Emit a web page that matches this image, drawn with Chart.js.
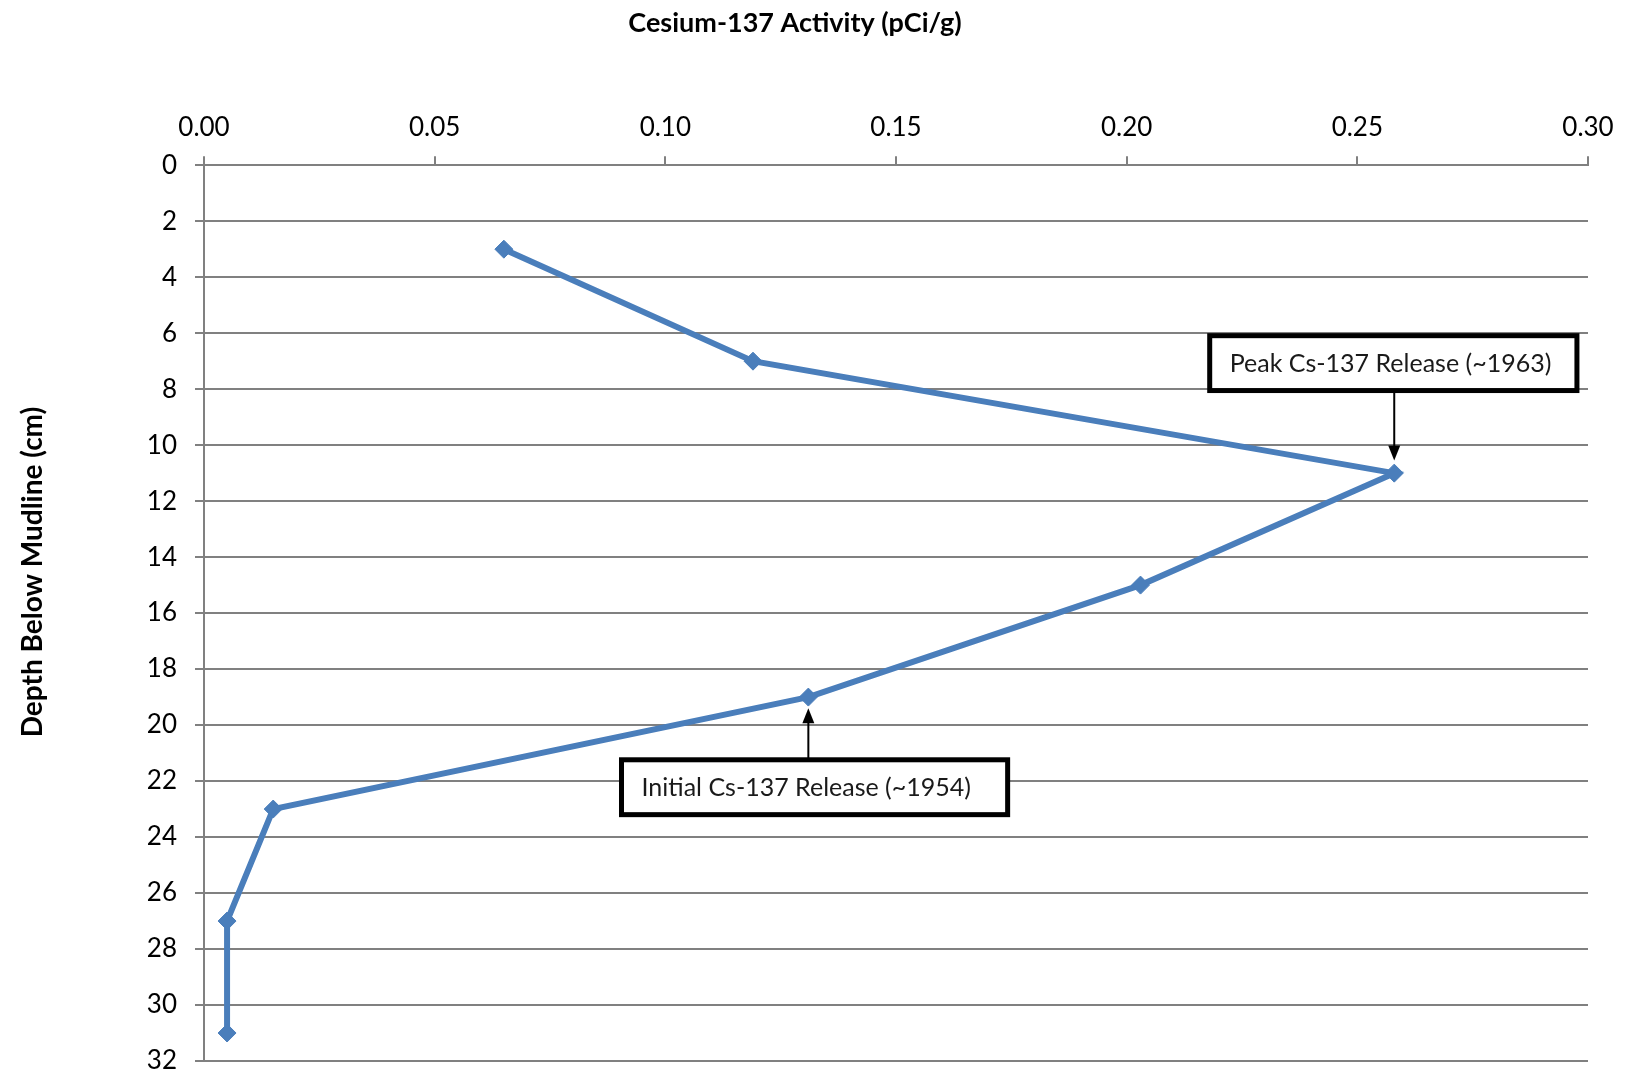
<!DOCTYPE html>
<html>
<head>
<meta charset="utf-8">
<script src="https://cdn.jsdelivr.net/npm/chart.js@4.4.1/dist/chart.umd.min.js"></script>
<style>
  html, body { margin: 0; padding: 0; background: #fff; }
  #wrap { width: 1631px; height: 1075px; }
</style>
</head>
<body>
<div id="wrap"><canvas id="cs137"></canvas></div>
<script>
// depth of each sample (cm) and its Cs-137 activity (pCi/g)
const depths = [3, 7, 11, 15, 19, 23, 27, 31];
const activity = [0.065, 0.119, 0.258, 0.203, 0.131, 0.015, 0.005, 0.005];

const xTicks = [0, 0.05, 0.10, 0.15, 0.20, 0.25, 0.30];
const yTicks = [0, 2, 4, 6, 8, 10, 12, 14, 16, 18, 20, 22, 24, 26, 28, 30, 32];

const xTitle = 'Cesium-137 Activity (pCi/g)';
const yTitle = 'Depth Below Mudline (cm)';

const FONT = 'Lato, "Open Sans", sans-serif';
const GRID = '#808080';

// callout boxes, placed in data units
const callouts = [
    { text: 'Peak Cs-137 Release (~1963)', x1: 0.218, x2: 0.2976, y1: 6.09, y2: 8.05,
      arrowX: 0.258, arrowFrom: 8.05, arrowTo: 10.55 },
    { text: 'Initial Cs-137 Release (~1954)', x1: 0.0905, x2: 0.1742, y1: 21.24, y2: 23.2,
      arrowX: 0.131, arrowFrom: 21.24, arrowTo: 19.4 }
];

// axis titles sit a bit off the plot centre in the original, so draw them by hand
const titlePlugin = {
    id: 'axisTitles',
    afterDraw(chart) {
        const ctx = chart.ctx;
        ctx.save();
        ctx.fillStyle = '#000';
        ctx.textAlign = 'center';
        ctx.textBaseline = 'middle';
        ctx.font = 'bold 27px ' + FONT;
        ctx.fillText(xTitle, 795, 23);
        ctx.font = 'bold 28px ' + FONT;
        ctx.translate(33, 572);
        ctx.rotate(-Math.PI / 2);
        ctx.fillText(yTitle, 0, 0);
        ctx.restore();
    }
};

const calloutPlugin = {
    id: 'callouts',
    afterDatasetsDraw(chart) {
        const ctx = chart.ctx;
        const xs = chart.scales.x;
        const ys = chart.scales.y;
        ctx.save();
        callouts.forEach(c => {
            // arrow
            let ax = xs.getPixelForValue(c.arrowX);
            let y0 = ys.getPixelForValue(c.arrowFrom);
            let y1 = ys.getPixelForValue(c.arrowTo);
            let dir = y1 > y0 ? 1 : -1;
            ctx.strokeStyle = '#000';
            ctx.fillStyle = '#000';
            ctx.lineWidth = 2;
            ctx.beginPath();
            ctx.moveTo(ax, y0);
            ctx.lineTo(ax, y1 - dir * 12);
            ctx.stroke();
            ctx.beginPath();
            ctx.moveTo(ax, y1);
            ctx.lineTo(ax - 6, y1 - dir * 15);
            ctx.lineTo(ax + 6, y1 - dir * 15);
            ctx.closePath();
            ctx.fill();

            // box
            let left = xs.getPixelForValue(c.x1);
            let right = xs.getPixelForValue(c.x2);
            let top = ys.getPixelForValue(c.y1);
            let bottom = ys.getPixelForValue(c.y2);
            ctx.fillStyle = '#fff';
            ctx.fillRect(left, top, right - left, bottom - top);
            ctx.lineWidth = 5;
            ctx.strokeStyle = '#000';
            ctx.strokeRect(left, top, right - left, bottom - top);

            ctx.fillStyle = '#1a1a1a';
            ctx.font = '25px ' + FONT;
            ctx.textAlign = 'left';
            ctx.textBaseline = 'middle';
            ctx.fillText(c.text, left + 20, (top + bottom) / 2 + 1);
        });
        ctx.restore();
    }
};

const points = depths.map((d, i) => ({ x: activity[i], y: d }));

new Chart(document.getElementById('cs137'), {
    type: 'scatter',
    data: {
        datasets: [{
            data: points,
            showLine: true,
            borderColor: '#4a7ebb',
            backgroundColor: '#4a7ebb',
            borderWidth: 6,
            pointStyle: 'rectRot',
            pointRadius: 9,
            pointHoverRadius: 9,
            pointBorderWidth: 1
        }]
    },
    options: {
        responsive: true,
        maintainAspectRatio: false,
        animation: false,
        layout: { autoPadding: false, padding: { right: 43, bottom: 14, left: 0, top: 99 } },
        plugins: {
            legend: { display: false },
            tooltip: { enabled: false },
            title: { display: false }
        },
        scales: {
            x: {
                type: 'linear',
                position: 'top',
                min: 0,
                max: 0.3,
                afterBuildTicks(scale) {
                    scale.ticks = xTicks.map(v => ({ value: v }));
                },
                ticks: {
                    color: '#000',
                    padding: 13,
                    font: { family: FONT, size: 26 },
                    callback: v => v.toFixed(2)
                },
                grid: {
                    drawOnChartArea: false,
                    drawTicks: true,
                    tickLength: 9,
                    color: GRID,
                    lineWidth: 2
                },
                border: { display: true, color: GRID, width: 2 }
            },
            y: {
                type: 'linear',
                reverse: true,
                min: 0,
                max: 32,
                afterBuildTicks(scale) {
                    scale.ticks = yTicks.map(v => ({ value: v }));
                },
                afterFit(scale) {
                    scale.width = 204;
                    // tick padding would otherwise be added below the last label
                    scale.paddingTop = 0;
                    scale.paddingBottom = 0;
                },
                ticks: {
                    color: '#000',
                    padding: 18,
                    font: { family: FONT, size: 26, lineHeight: 1 }
                },
                grid: {
                    color: GRID,
                    lineWidth: 2,
                    tickLength: 9
                },
                border: { display: true, color: GRID, width: 2 }
            }
        }
    },
    plugins: [calloutPlugin, titlePlugin]
});
</script>
</body>
</html>
